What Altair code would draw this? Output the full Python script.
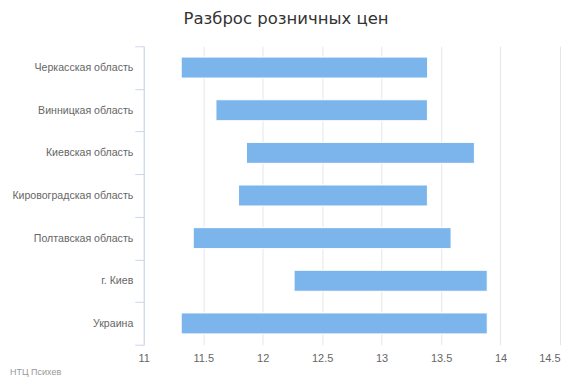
import altair as alt
import pandas as pd

regions = ["Черкасская область", "Винницкая область", "Киевская область",
           "Кировоградская область", "Полтавская область", "г. Киев", "Украина"]
low = [11.315, 11.607, 11.864, 11.797, 11.416, 12.264, 11.315]
high = [13.387, 13.385, 13.78, 13.385, 13.584, 13.888, 13.888]
x_ticks = [11, 11.5, 12, 12.5, 13, 13.5, 14, 14.5]

df = pd.DataFrame({"region": regions, "low": low, "high": high})
credit_df = pd.DataFrame({"t": ["НТЦ Психев"]})

FONT = "Liberation Sans"
TFONT = "DejaVu Sans"

bars = alt.Chart(df).mark_bar(
    color="#7cb5ec", stroke="#ffffff", strokeWidth=1, size=21
).encode(
    y=alt.Y("region:N", sort=regions, title=None,
            scale=alt.Scale(paddingInner=0, paddingOuter=0),
            axis=alt.Axis(tickBand="extent", domainColor="#ccd6eb", tickColor="#ccd6eb",
                          tickSize=9, labelPadding=2, labelColor="#666666",
                          labelFontSize=10.6, labelFont=FONT, grid=False,
                          labelLimit=200)),
    x=alt.X("low:Q", title=None,
            scale=alt.Scale(domain=[11, 14.5], nice=False, zero=False),
            axis=alt.Axis(values=x_ticks, format="~g", domain=False, ticks=False,
                          grid=True, gridColor="#e6e6e6", labelColor="#666666",
                          labelFontSize=11, labelFont=FONT, labelPadding=8,
                          labelFlush=False,
                          labelAlign={"condition": {"test": "datum.value >= 14.5", "value": "right"},
                                      "value": "center"})),
    x2="high:Q",
)

credit = alt.Chart(credit_df).mark_text(
    align="left", baseline="middle", fontSize=9, color="#999999", font=FONT
).encode(
    text="t:N",
    x=alt.value(-134),
    y=alt.value(326),
)

chart = alt.layer(bars, credit).properties(
    width=417,
    height=299,
    autosize=alt.AutoSizeParams(type="none"),
    padding={"left": 136, "top": 38, "right": 2, "bottom": 32},
    title=alt.TitleParams("Разброс розничных цен", anchor="middle", dx=-66,
                          fontSize=16.5, font=TFONT, fontWeight="normal",
                          color="#333333", offset=14),
).configure_view(stroke=None)

chart.save("out.html", embed_options={"renderer": "svg", "actions": False})
